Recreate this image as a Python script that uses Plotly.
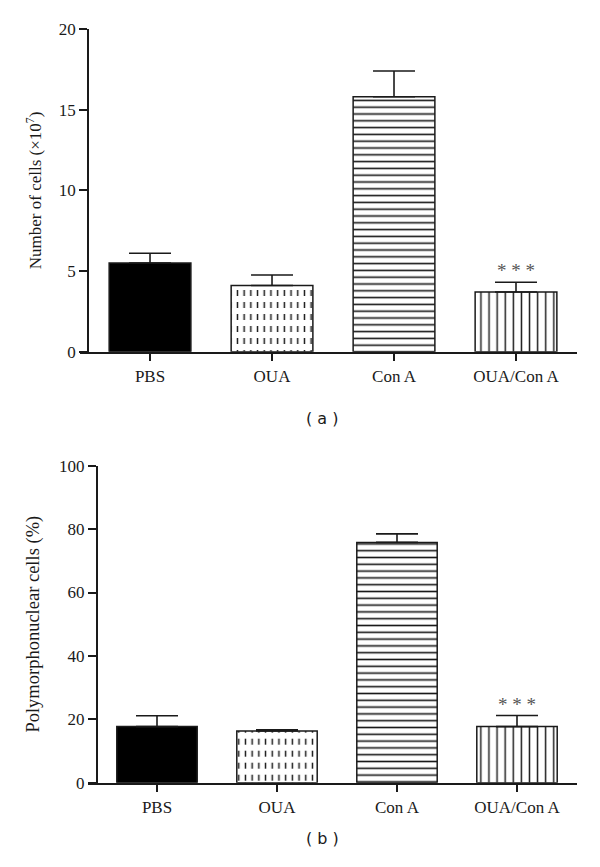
import plotly.graph_objects as go

# data
categories = ["PBS", "OUA", "Con A", "OUA/Con A"]
cells = [5.5, 4.1, 15.8, 3.7]           # panel (a), x10^7
cells_err = [0.6, 0.65, 1.6, 0.6]
pmn = [17.7, 16.3, 75.8, 17.7]          # panel (b), %
pmn_err = [3.4, 0.4, 2.7, 3.5]
signif = ["", "", "", "* * *"]

INK = "#1a1a1a"
SERIF = "Liberation Serif"
W, H = 600, 867

fig = go.Figure()


def err(e):
    return dict(type="data", symmetric=False, array=[e], arrayminus=[0],
                color=INK, thickness=1.6, width=21)


def patt(shape, color, size, solidity):
    return dict(shape=shape, fgcolor=color, fgopacity=1, size=size,
                solidity=solidity, fillmode="overlay")


def add_panel(vals, errs, xa, ya):
    common = dict(xaxis=xa, yaxis=ya, width=0.67, showlegend=False, opacity=1)
    # PBS: solid black
    fig.add_trace(go.Bar(x=[categories[0]], y=[vals[0]], error_y=err(errs[0]),
                         marker=dict(color="black", line=dict(color=INK, width=1.5)), **common))
    # OUA: vertical lines cut into dashes by a white horizontal stripe overlay
    fig.add_trace(go.Bar(x=[categories[1]], y=[vals[1]],
                         marker=dict(color="white", line=dict(width=0),
                                     pattern=patt("|", INK, 6.7, 0.22)), **common))
    fig.add_trace(go.Bar(x=[categories[1]], y=[vals[1]], error_y=err(errs[1]),
                         marker=dict(color="rgba(0,0,0,0)", line=dict(color=INK, width=1.5),
                                     pattern=patt("-", "white", 12, 0.5)), **common))
    # Con A: horizontal lines
    fig.add_trace(go.Bar(x=[categories[2]], y=[vals[2]], error_y=err(errs[2]),
                         marker=dict(color="white", line=dict(color=INK, width=1.5),
                                     pattern=patt("-", INK, 6.8, 0.24)), **common))
    # OUA/Con A: vertical lines
    fig.add_trace(go.Bar(x=[categories[3]], y=[vals[3]], error_y=err(errs[3]),
                         marker=dict(color="white", line=dict(color=INK, width=1.5),
                                     pattern=patt("|", INK, 8.1, 0.18)), **common))
    for c, v, e, s in zip(categories, vals, errs, signif):
        if s:
            fig.add_annotation(x=c, y=v + e, xref=xa, yref=ya, text=s, showarrow=False,
                               yanchor="bottom", yshift=-1,
                               font=dict(family=SERIF, size=19, color="#555555"))


add_panel(cells, cells_err, "x", "y")
add_panel(pmn, pmn_err, "x2", "y2")

xstyle = dict(showline=True, linecolor=INK, linewidth=1.5, ticks="outside", ticklen=8,
              tickwidth=1.5, tickcolor=INK, showgrid=False, zeroline=False, automargin=False,
              tickfont=dict(family=SERIF, size=17, color=INK))
ystyle = dict(showline=True, linecolor=INK, linewidth=1.5, ticks="outside", ticklen=8,
              tickwidth=1.5, tickcolor=INK, showgrid=False, zeroline=False, anchor="free",
              automargin=False, tickfont=dict(family=SERIF, size=17, color=INK))

fig.update_layout(
    template="none",
    width=W, height=H, margin=dict(l=0, r=0, t=0, b=0),
    paper_bgcolor="white", plot_bgcolor="white", barmode="overlay",
    xaxis=dict(xstyle, domain=[80 / W, 577 / W], range=[-0.574, 3.5], anchor="y"),
    yaxis=dict(ystyle, domain=[1 - 351.7 / H, 1 - 29 / H], range=[0, 20],
               tickvals=[0, 5, 10, 15, 20], position=88 / W,
               title=dict(text="Number of cells (×10<sup>7</sup>)", standoff=12,
                          font=dict(family=SERIF, size=17, color=INK))),
    xaxis2=dict(xstyle, domain=[88 / W, 577 / W], range=[-0.575, 3.5], anchor="y2"),
    yaxis2=dict(ystyle, domain=[1 - 782.7 / H, 1 - 465.7 / H], range=[0, 100],
                tickvals=[0, 20, 40, 60, 80, 100], position=96.7 / W,
                title=dict(text="Polymorphonuclear cells (%)", standoff=14,
                           font=dict(family=SERIF, size=18.5, color=INK))),
)

for txt, yy in [("( a )", 1 - 418 / H), ("( b )", 1 - 850 / H)]:
    fig.add_annotation(x=322 / W, y=yy, xref="paper", yref="paper", text=txt,
                       showarrow=False, font=dict(family="DejaVu Sans", size=16, color=INK))

fig.write_html("out.html", config={"displayModeBar": False},
               post_script="document.body.style.margin='0';")
